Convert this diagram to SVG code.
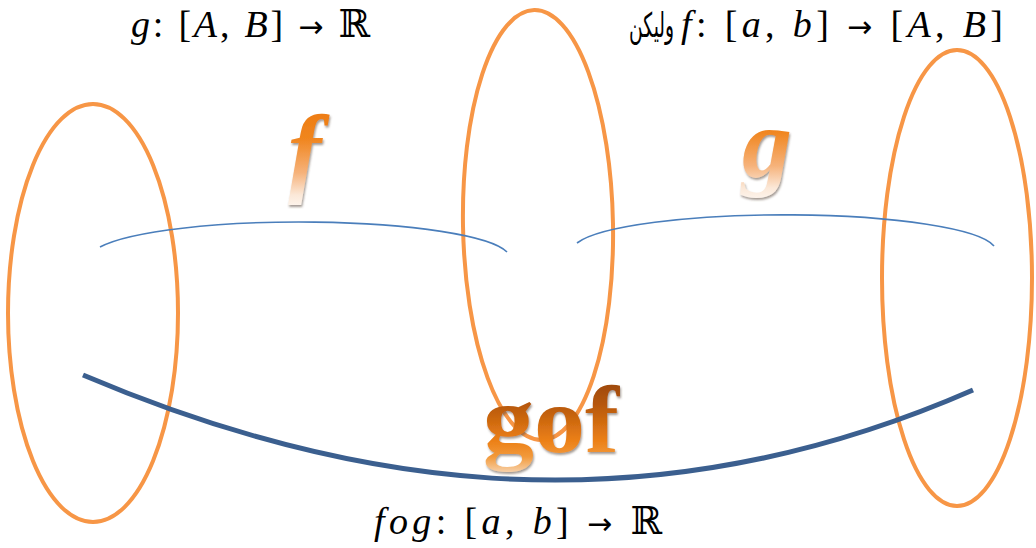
<svg xmlns="http://www.w3.org/2000/svg" width="1036" height="548" viewBox="0 0 1036 548">
  <defs>
    <style>
      .set { fill: none; stroke: #f79646; stroke-width: 4; }
      .map { fill: none; stroke: #4a7ebb; stroke-width: 1.6; }
      .comp { fill: none; stroke: #3b5f8f; stroke-width: 5; }
      .eq { font-family: "Liberation Serif", "DejaVu Serif", serif; font-size: 38px; fill: #000; }
      .it { font-style: italic; }
      .arr { font-family: "DejaVu Sans", sans-serif; font-size: 30px; }
      .ar { font-family: "DejaVu Sans", "Noto Sans", sans-serif; font-size: 34px; fill: #000; }
      .big { font-family: "Liberation Serif", "DejaVu Serif", serif; font-style: italic; font-weight: bold; font-size: 100px; }
      .gof { font-family: "Liberation Serif", "DejaVu Serif", serif; font-weight: bold; font-size: 96px; fill: url(#gofGrad); }
    </style>
    <linearGradient id="fGrad" x1="0" y1="0" x2="0" y2="1">
      <stop offset="0" stop-color="#ec760a"/>
      <stop offset="0.4" stop-color="#f08620"/>
      <stop offset="0.7" stop-color="#f6b27a"/>
      <stop offset="0.9" stop-color="#fbe8d8"/>
      <stop offset="1" stop-color="#fdf4ec"/>
    </linearGradient>
    <linearGradient id="gofGrad" x1="0" y1="0" x2="0" y2="1">
      <stop offset="0" stop-color="#8a3f04"/>
      <stop offset="0.35" stop-color="#b5560a"/>
      <stop offset="0.7" stop-color="#ec8017"/>
      <stop offset="0.85" stop-color="#f29a3c"/>
      <stop offset="1" stop-color="#f7d3ae"/>
    </linearGradient>
    <filter id="shadow" x="-20%" y="-20%" width="140%" height="140%">
      <feDropShadow dx="1" dy="2" stdDeviation="1.2" flood-color="#5a4a3a" flood-opacity="0.55"/>
    </filter>
  </defs>
  <rect width="1036" height="548" fill="#ffffff"/>

  <g id="set-left">
    <ellipse class="set" cx="93" cy="313" rx="85" ry="209"/>
  </g>
  <g id="set-middle">
    <ellipse class="set" cx="538" cy="225" rx="75" ry="215" transform="rotate(-1 538 225)"/>
  </g>
  <g id="set-right">
    <ellipse class="set" cx="957" cy="278" rx="75" ry="228"/>
  </g>

  <g id="connectors">
    <path class="map" d="M100,247 A210 36 0 0 1 507,252"/>
    <path class="map" d="M577,243 A212 36 0 0 1 994,246"/>
    <path class="comp" d="M83,375 C330,480 630,540 973,390"/>
  </g>

  <g id="label-f">
    <text class="big" x="288" y="184" fill="url(#fGrad)" filter="url(#shadow)">f</text>
  </g>
  <g id="label-g">
    <text class="big" x="742" y="177" fill="url(#fGrad)" filter="url(#shadow)">g</text>
  </g>
  <g id="label-gof">
    <text class="gof" x="483" y="452" textLength="136" lengthAdjust="spacingAndGlyphs" filter="url(#shadow)">gof</text>
  </g>

  <g id="eq-g">
    <text class="eq" x="131" y="37" textLength="239" lengthAdjust="spacing"><tspan class="it">g</tspan>: [<tspan class="it">A</tspan>, <tspan class="it">B</tspan>] <tspan class="arr">→</tspan> ℝ</text>
  </g>
  <g id="eq-f">
    <text class="ar" transform="translate(674,37) scale(0.55,1)" text-anchor="end" x="0" y="0">وليكن</text>
    <text class="eq" x="681" y="37" textLength="322" lengthAdjust="spacing"><tspan class="it">f</tspan>: [<tspan class="it">a</tspan>, <tspan class="it">b</tspan>] <tspan class="arr">→</tspan> [<tspan class="it">A</tspan>, <tspan class="it">B</tspan>]</text>
  </g>
  <g id="eq-fog">
    <text class="eq" x="374" y="534" textLength="288" lengthAdjust="spacing"><tspan class="it">fog</tspan>: [<tspan class="it">a</tspan>, <tspan class="it">b</tspan>] <tspan class="arr">→</tspan> ℝ</text>
  </g>
</svg>
